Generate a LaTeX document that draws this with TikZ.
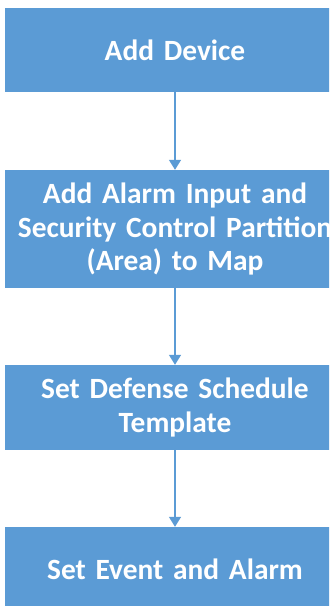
\documentclass[tikz,border=0pt]{standalone}
\usepackage{fontspec}
\setmainfont{Carlito}
\usetikzlibrary{arrows.meta}
\definecolor{boxblue}{HTML}{5B9BD5}
\begin{document}
\begin{tikzpicture}[x=1bp,y=-1bp,
  stepbox/.style={fill=boxblue, draw=none, minimum width=328bp, text width=340bp, align=center,
    text=white, font=\bfseries\fontsize{29.5}{33.5}\selectfont, inner sep=0pt},
  link/.style={draw=boxblue, line width=1.4bp, -{Triangle[width=12bp,length=10bp]}}]
\useasboundingbox (0,0) rectangle (329,606);
\clip (0,0) rectangle (329,606);
\fill[white] (0,0) rectangle (329,606);
\node[stepbox, minimum height=84bp] (a) at (175,50) {Add Device};
\node[stepbox, minimum height=118bp] (b) at (175,229) {Add Alarm Input and\\Security Control Partition\\(Area) to Map};
\node[stepbox, minimum height=85bp] (c) at (175,407.5) {Set Defense Schedule\\Template};
\node[stepbox, minimum height=85bp] (d) at (175,569.5) {Set Event and Alarm};
\draw[link] (a.south) -- (b.north);
\draw[link] (b.south) -- (c.north);
\draw[link] (c.south) -- (d.north);
\end{tikzpicture}
\end{document}
